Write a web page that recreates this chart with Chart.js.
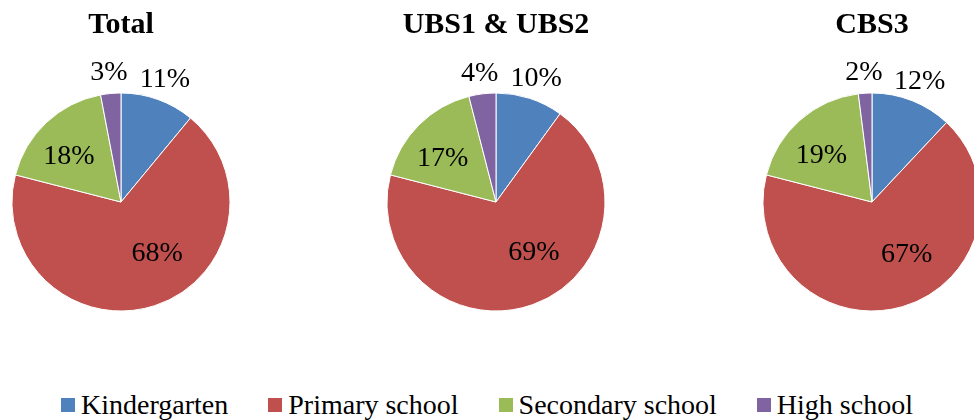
<!DOCTYPE html>
<html>
<head>
<meta charset="utf-8">
<script src="https://cdn.jsdelivr.net/npm/chart.js@4/dist/chart.umd.min.js"></script>
<style>
    body {
        margin: 0;
        width: 974px;
        height: 420px;
        overflow: hidden;
        background: #fff;
        position: relative;
        font-family: "Liberation Serif", serif;
    }
    canvas {
        position: absolute;
        top: 0;
    }
    #legend {
        position: absolute;
        left: 0;
        top: 390px;
        width: 974px;
        height: 30px;
        display: flex;
        justify-content: center;
        gap: 40px;
    }
    .legendItem {
        display: flex;
        align-items: center;
        font-size: 28px;
        line-height: 30px;
        color: #000;
    }
    .legendBox {
        width: 14px;
        height: 14px;
        margin-right: 6px;
    }
</style>
</head>
<body>
<canvas id="pie1" width="244" height="361" style="left:-1px"></canvas>
<canvas id="pie2" width="244" height="361" style="left:374px"></canvas>
<canvas id="pie3" width="244" height="361" style="left:750px"></canvas>
<div id="legend"></div>

<script>
const categories = ["Kindergarten", "Primary school", "Secondary school", "High school"]
const colors = ["#4F81BD", "#C0504D", "#9BBB59", "#8064A2"]

const titles = ["Total", "UBS1 & UBS2", "CBS3"]
const totalValues = [11, 68, 18, 3]
const ubsValues = [10, 69, 17, 4]
const cbsValues = [12, 67, 19, 2]

// where each percent label sits: fraction of radius and turn (degrees) from slice middle
const labelRadius = [1.19, 0.58, 0.63, 1.19]
const labelTurn = [0, -17, -6, 0]

const percentLabels = {
    id: "percentLabels",
    afterDatasetsDraw(chart) {
        const ctx = chart.ctx
        const meta = chart.getDatasetMeta(0)
        const values = chart.data.datasets[0].data
        ctx.save()
        ctx.font = "28px 'Liberation Serif'"
        ctx.fillStyle = "#000"
        ctx.textAlign = "center"
        ctx.textBaseline = "middle"
        meta.data.forEach(function (arc, i) {
            const p = arc.getProps(["x", "y", "startAngle", "endAngle", "outerRadius"], true)
            const mid = (p.startAngle + p.endAngle) / 2 + labelTurn[i] * Math.PI / 180
            const r = p.outerRadius * labelRadius[i]
            ctx.fillText(values[i] + "%", p.x + r * Math.cos(mid), p.y + r * Math.sin(mid))
        })
        ctx.restore()
    }
}

function makePie(id, title, values) {
    const ctx = document.getElementById(id)
    new Chart(ctx, {
        type: "pie",
        data: {
            labels: categories,
            datasets: [{
                data: values,
                backgroundColor: colors,
                borderColor: "#ffffff",
                borderWidth: 1
            }]
        },
        options: {
            responsive: false,
            animation: false,
            radius: 109,
            layout: {
                padding: 0
            },
            plugins: {
                legend: {
                    display: false
                },
                tooltip: {
                    enabled: false
                },
                title: {
                    display: true,
                    text: title,
                    color: "#000",
                    font: {
                        family: "'Liberation Serif'",
                        size: 30,
                        weight: "bold",
                        lineHeight: 1.2
                    },
                    padding: {
                        top: 7,
                        bottom: 0
                    }
                }
            }
        },
        plugins: [percentLabels]
    })
}

function makeLegend() {
    const legend = document.getElementById("legend")
    for (let i = 0; i < categories.length; i++) {
        const item = document.createElement("div")
        item.className = "legendItem"
        const box = document.createElement("span")
        box.className = "legendBox"
        box.style.background = colors[i]
        const text = document.createElement("span")
        text.textContent = categories[i]
        item.appendChild(box)
        item.appendChild(text)
        legend.appendChild(item)
    }
}

makePie("pie1", titles[0], totalValues)
makePie("pie2", titles[1], ubsValues)
makePie("pie3", titles[2], cbsValues)
makeLegend()
</script>
</body>
</html>
